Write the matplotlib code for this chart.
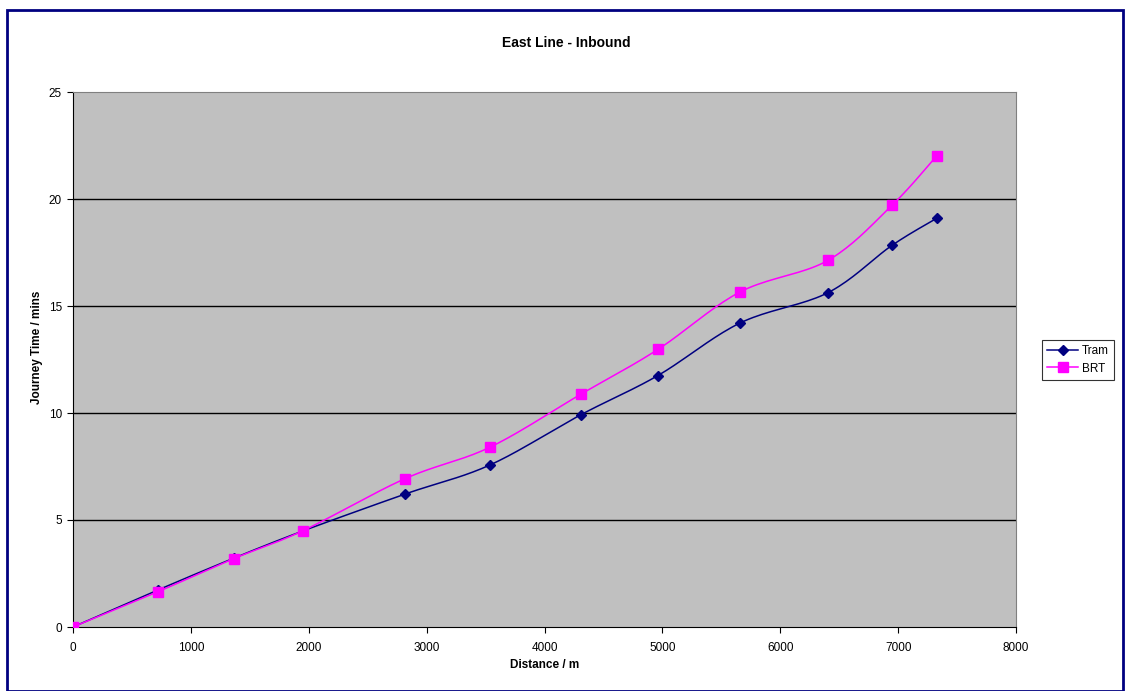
import numpy as np
import matplotlib.pyplot as plt
from matplotlib.patches import Rectangle

plt.rcParams['font.family'] = ['Liberation Sans', 'DejaVu Sans']

distance = [0, 721, 1366, 1951, 2816, 3537, 4309, 4962, 5657, 6404, 6947, 7328]
tram = [0, 1.73, 3.22, 4.49, 6.21, 7.57, 9.92, 11.75, 14.2, 15.62, 17.83, 19.1]
brt = [0, 1.65, 3.2, 4.5, 6.93, 8.4, 10.88, 12.97, 15.65, 17.13, 19.7, 22.02]


def smooth(x, y, n=20):
    # catmull-rom curve through the points, like a spreadsheet "smoothed line"
    x = np.asarray(x, float)
    y = np.asarray(y, float)
    px = np.concatenate([[x[0]], x, [x[-1]]])
    py = np.concatenate([[y[0]], y, [y[-1]]])
    xs, ys = [], []
    t = np.linspace(0, 1, n, endpoint=False)
    for i in range(1, len(px) - 2):
        for p, out in ((px, xs), (py, ys)):
            p0, p1, p2, p3 = p[i - 1], p[i], p[i + 1], p[i + 2]
            m1 = (p2 - p0) / 6.0
            m2 = (p3 - p1) / 6.0
            c1 = p1 + m1
            c2 = p2 - m2
            out.extend((1 - t) ** 3 * p1 + 3 * (1 - t) ** 2 * t * c1
                       + 3 * (1 - t) * t ** 2 * c2 + t ** 3 * p2)
    xs.append(x[-1])
    ys.append(y[-1])
    return np.array(xs), np.array(ys)


fig = plt.figure(figsize=(11.25, 6.91), dpi=100)
W, H = 1125, 691
fig.patches.append(Rectangle((7 / W, 0), (1123 - 7) / W, (H - 10) / H,
                             transform=fig.transFigure, fill=False,
                             edgecolor='#000080', linewidth=2))

ax = fig.add_axes([73 / W, (H - 627) / H, (1016 - 73) / W, (627 - 92) / H])
ax.set_facecolor('#C0C0C0')

navy = '#000080'
magenta = '#FF00FF'
sx, sy = smooth(distance, tram)
ax.plot(sx, sy, color=navy, linewidth=1.1, zorder=3)
ax.plot(distance, tram, linestyle='none', marker='D', markersize=5.5,
        color=navy, zorder=4)
bx, by = smooth(distance, brt)
ax.plot(bx, by, color=magenta, linewidth=1.1, zorder=3)
ax.plot(distance, brt, linestyle='none', marker='s', markersize=6.5,
        color=magenta, zorder=4)

# legend proxies
ax.plot([], [], color=navy, marker='D', markersize=5.5, linewidth=1.1, label='Tram')
ax.plot([], [], color=magenta, marker='s', markersize=6.5, linewidth=1.1, label='BRT')

ax.set_xlim(0, 8000)
ax.set_ylim(0, 25)
ax.set_xticks(range(0, 8001, 1000))
ax.set_yticks(range(0, 26, 5))
for v in range(5, 25, 5):
    ax.axhline(v, color='black', linewidth=1, zorder=1)

ax.spines['left'].set_color('black')
ax.spines['bottom'].set_color('black')
ax.spines['top'].set_color('#808080')
ax.spines['right'].set_color('#808080')
ax.tick_params(labelsize=8.5, length=4, width=0.8, direction='out')
ax.tick_params(axis='x', pad=7)
ax.tick_params(axis='y', pad=4)

fig.text(566 / W, 1 - 43 / H, 'East Line - Inbound', fontsize=10,
         fontweight='bold', ha='center', va='center')
ax.set_xlabel('Distance / m', fontsize=8.5, fontweight='bold')
ax.xaxis.set_label_coords(0.5, (627 - 665) / 535)
ax.xaxis.label.set_va('center')
ax.set_ylabel('Journey Time / mins', fontsize=8.5, fontweight='bold')
ax.yaxis.set_label_coords((37 - 73) / 943, (627 - 347) / 535)
ax.yaxis.label.set_va('center')

handles, labels = ax.get_legend_handles_labels()
leg = fig.legend(handles[-2:], labels[-2:], loc='upper left',
                 bbox_to_anchor=(1042 / W, 1 - 340 / H), fontsize=8.5,
                 frameon=True, fancybox=False, edgecolor='black',
                 handlelength=2.6, handletextpad=0.3, borderpad=0.45,
                 labelspacing=0.45, borderaxespad=0)
leg.get_frame().set_linewidth(0.8)

fig.savefig('out.png', dpi=100)
